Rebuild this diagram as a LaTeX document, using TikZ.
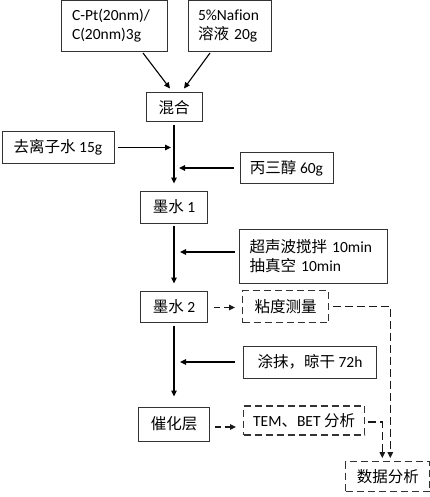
\documentclass[tikz,border=0pt]{standalone}
\usepackage{fontspec}
\setmainfont[Ligatures=CommonOff]{Carlito}
\newfontfamily\cjk{Noto Sans CJK SC}
\usetikzlibrary{arrows.meta,positioning}

\begin{document}
\begin{tikzpicture}[x=1pt,y=1pt,font=\fontsize{15.5}{19}\selectfont,
  >={Triangle[length=6pt,width=5.5pt]},node distance=30pt,
  box/.style={draw=black!80,line width=1pt,inner sep=2pt,align=center},
  dbox/.style={box,line width=1.2pt,dash pattern=on 7pt off 4pt},
  arr/.style={->,line width=1.1pt},
  darr/.style={arr,line width=1.2pt,draw=black!90,dash pattern=on 8pt off 4pt}]
  \useasboundingbox (0,0) rectangle (430,-497);
  \node[box,align=left,text width=84pt,inner xsep=11pt,minimum height=51pt] (cpt) at (114,-26) {C-Pt(20nm)/\\C(20nm)3g};
  \node[box,align=left,text width=63pt,inner xsep=10pt,minimum height=51pt,right=20pt of cpt] (naf) {5\%Nafion\\{\cjk 溶液} 20g};
  \node[box,minimum width=56pt,minimum height=29pt] (mix) at (174,-107.5) {{\cjk 混合}};
  \node[box,minimum width=112pt,minimum height=31pt,below left=9pt and 31pt of mix] (water) {{\cjk 去离子水} 15g};
  \node[box,minimum width=93pt,minimum height=30pt,below right=30pt and 37pt of mix] (glyc) {{\cjk 丙三醇} 60g};
  \node[box,minimum width=67pt,minimum height=32pt,below=68pt of mix] (ink1) {{\cjk 墨水} 1};
  \node[box,align=left,text width=128pt,inner xsep=10pt,minimum height=54pt,below right=5pt and 31pt of ink1] (ultra) {{\cjk 超声波搅拌} 10min\\{\cjk 抽真空} 10min};
  \node[box,minimum width=67pt,minimum height=31pt,below=67pt of ink1] (ink2) {{\cjk 墨水} 2};
  \node[dbox,minimum width=86pt,minimum height=32pt,right=34pt of ink2] (visc) {{\cjk 粘度测量}};
  \node[box,minimum width=133pt,minimum height=32pt,below right=23pt and 35pt of ink2] (coat) {{\cjk 涂抹，晾干} 72h};
  \node[box,minimum width=71pt,minimum height=34pt,below=84pt of ink2] (cat) {{\cjk 催化层}};
  \node[dbox,minimum width=121pt,minimum height=29pt,right=33pt of cat,yshift=3.5pt] (tem) {TEM{\cjk 、}BET {\cjk 分析}};
  \node[dbox,minimum width=84pt,minimum height=30pt,below right=138pt and 16pt of visc] (data) {{\cjk 数据分析}};
  % main line
  \draw[arr] ([xshift=29pt,yshift=-1pt]cpt.south) -- ([xshift=-4pt,yshift=4pt]mix.north);
  \draw[arr] ([xshift=-19.5pt,yshift=-1pt]naf.south) -- ([xshift=10pt,yshift=4pt]mix.north);
  \draw[arr,shorten <=3pt,shorten >=7pt] (mix) -- (ink1);
  \draw[arr,shorten <=2pt,shorten >=7pt] (ink1) -- (ink2);
  \draw[arr,shorten <=3pt,shorten >=10pt] (ink2) -- (cat);
  % side inputs
  \draw[arr,shorten <=3pt,shorten >=3pt] (water.east) -- (water.east -| mix.south);
  \draw[arr,shorten <=6pt,shorten >=5pt] (glyc.west) -- (glyc.west -| mix.south);
  \draw[arr,shorten <=4pt,shorten >=6pt] ([yshift=4pt]ultra.west) -- ([yshift=4pt]ultra.west -| ink1.south);
  \draw[arr,shorten <=8pt,shorten >=6pt] (coat.west) -- (coat.west -| ink2.south);
  % tests
  \draw[darr,dash pattern=on 6pt off 4pt,shorten <=6pt,shorten >=7pt] ([yshift=-1pt]ink2.east) -- ([yshift=-1pt]ink2.east -| visc.west);
  \draw[darr,dash pattern=on 6pt off 4pt,shorten <=5pt,shorten >=7pt] ([yshift=-3pt]cat.east) -- ([yshift=-3pt]cat.east -| tem.west);
  \draw[darr,shorten <=4pt,shorten >=3pt] (visc.east) -| ([xshift=2.5pt]data.north);
  \draw[darr,shorten <=3pt,shorten >=3pt] ([yshift=-1.5pt]tem.east) -| ([xshift=-5.5pt]data.north);
\end{tikzpicture}
\end{document}
